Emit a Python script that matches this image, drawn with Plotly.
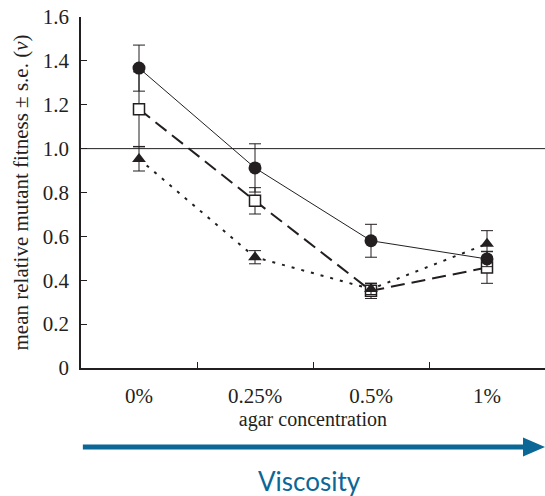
import plotly.graph_objects as go

categories = ["0%", "0.25%", "0.5%", "1%"]
circle_vals = [1.367, 0.912, 0.580, 0.497]
circle_err = [0.105, 0.11, 0.075, 0.035]
square_vals = [1.18, 0.762, 0.352, 0.458]
square_err = [0.17, 0.06, 0.035, 0.072]
triangle_vals = [0.953, 0.505, 0.36, 0.566]
triangle_err = [0.055, 0.03, 0.025, 0.06]
y_ticks = [0, 0.2, 0.4, 0.6, 0.8, 1.0, 1.2, 1.4, 1.6]
y_ticktext = ["0", "0.2", "0.4", "0.6", "0.8", "1.0", "1.2", "1.4", "1.6"]

INK = "#231f20"
BLUE = "#0b6796"
SERIF = "Liberation Serif"

fig = go.Figure()

def err(arr):
    return dict(type="data", array=arr, color=INK, thickness=1, width=6)

fig.add_trace(go.Scatter(
    x=categories, y=square_vals, error_y=err(square_err), mode="lines+markers",
    line=dict(color=INK, width=2, dash="14px,7px"),
    marker=dict(symbol="square", size=11, color="white", line=dict(color=INK, width=1.5)),
))
fig.add_trace(go.Scatter(
    x=categories, y=triangle_vals, error_y=err(triangle_err), mode="lines+markers",
    line=dict(color=INK, width=2, dash="3px,7px"),
    marker=dict(symbol="triangle-up", size=12, color=INK),
))
fig.add_trace(go.Scatter(
    x=categories, y=circle_vals, error_y=err(circle_err), mode="lines+markers",
    line=dict(color=INK, width=1),
    marker=dict(symbol="circle", size=13, color=INK),
))

fig.add_shape(type="line", xref="paper", yref="y", x0=0, x1=1, y0=1.0, y1=1.0,
              line=dict(color=INK, width=1), layer="below")

fig.add_shape(type="line", xref="paper", yref="paper", x0=0.004, x1=0.96, y0=-0.225, y1=-0.225,
              line=dict(color=BLUE, width=5))
fig.add_shape(type="path", xref="paper", yref="paper",
              path="M 0.9526 -0.198 L 1.0 -0.225 L 0.9526 -0.252 Z",
              fillcolor=BLUE, line=dict(color=BLUE, width=0))
fig.add_annotation(text="Viscosity", xref="paper", yref="paper", x=0.4935, y=-0.322,
                   showarrow=False, font=dict(family="Lato", size=26, color=BLUE),
                   xanchor="center", yanchor="middle")

fig.update_layout(
    width=545, height=496,
    margin=dict(l=81, r=0, t=17, b=128),
    paper_bgcolor="white", plot_bgcolor="white",
    showlegend=False,
    font=dict(family=SERIF, color=INK, size=20),
    xaxis=dict(
        type="category", categoryorder="array", categoryarray=categories,
        range=[-0.5, 3.5], tickson="boundaries", ticks="inside", ticklen=6,
        tickcolor=INK, tickwidth=1, showline=True, linecolor=INK, linewidth=1.5,
        showgrid=False, zeroline=False, tickfont=dict(size=21, family=SERIF, color=INK),
        ticklabelstandoff=8,
        title=dict(text="agar concentration", font=dict(size=20, family=SERIF), standoff=4),
    ),
    yaxis=dict(
        range=[0, 1.6], tickvals=y_ticks, ticktext=y_ticktext, ticks="inside", ticklen=6,
        tickcolor=INK, tickwidth=1, showline=True, linecolor=INK, linewidth=1.5,
        showgrid=False, zeroline=False, tickfont=dict(size=21, family=SERIF, color=INK),
        ticklabelstandoff=6,
        title=dict(text="mean relative mutant fitness ± s.e. (<i>v</i>)",
                   font=dict(size=21, family=SERIF), standoff=8),
    ),
)

fig.write_html("out.html")
